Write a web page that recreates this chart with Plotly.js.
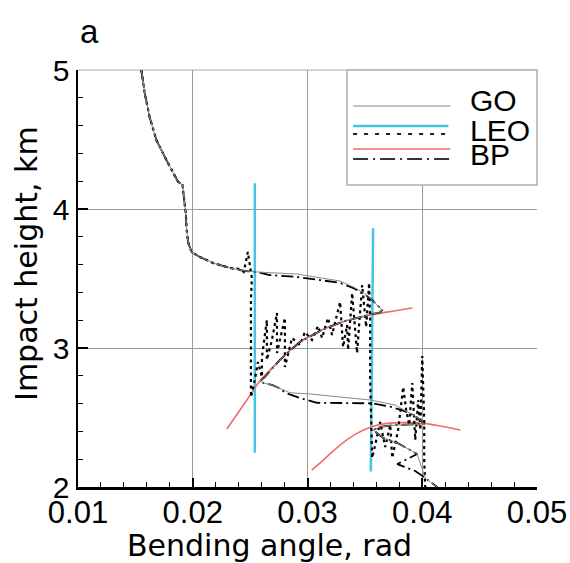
<!DOCTYPE html>
<html><head><meta charset="utf-8">
<script src="https://cdn.plot.ly/plotly-3.0.1.min.js"></script>
<style>html,body{margin:0;padding:0;background:#fff;} #chart{width:570px;height:563px;}</style>
</head><body><div id="chart"></div>
<script>
// ---- data (bending angle, rad ; impact height, km) ----
const bpX = [0.01552,0.01581,0.01624,0.01683,0.01770,0.01843,0.01872,0.01910,0.01924,0.01939,0.01945,0.01959,0.01989,0.02061,0.02175,0.02323,0.02454,0.02559,0.02672,0.02908,0.03109,0.03284,0.03397,0.03485,0.03563,0.03616,0.03651,0.03624,0.03563,0.03502,0.03328,0.03153,0.02934,0.02760,0.02629,0.02585,0.02620,0.02690,0.02751,0.02812,0.02934,0.03083,0.03258,0.03432,0.03572,0.03721,0.03834,0.03922,0.03983,0.04018,0.03913,0.03764,0.03633,0.03572,0.03659,0.03782,0.03895,0.03956,0.03782,0.03939,0.04026,0.04131,0.04175];
const bpY = [5.000,4.835,4.662,4.496,4.353,4.245,4.196,4.173,4.065,3.971,3.871,3.763,3.691,3.655,3.612,3.576,3.554,3.547,3.525,3.511,3.489,3.468,3.432,3.396,3.345,3.302,3.273,3.252,3.245,3.230,3.194,3.140,3.043,2.914,2.791,2.763,2.748,2.734,2.712,2.676,2.640,2.606,2.606,2.604,2.602,2.578,2.549,2.518,2.482,2.453,2.450,2.446,2.432,2.410,2.353,2.317,2.266,2.237,2.165,2.115,2.065,2.000,1.971];

const goX = [0.01552,0.01581,0.01624,0.01683,0.01770,0.01843,0.01872,0.01910,0.01924,0.01939,0.01945,0.01959,0.01989,0.02061,0.02175,0.02323,0.02454,0.02559,0.02908,0.03109,0.03284,0.03397,0.03485,0.03563,0.03616,0.03651,0.03624,0.03563,0.03502,0.03328,0.03153,0.02934,0.02760,0.02629,0.02585,0.02620,0.02690,0.02751,0.02847,0.03022,0.03284,0.03546,0.03764,0.03922,0.03983,0.04018,0.03913,0.03764,0.03633,0.03572,0.03659,0.03782,0.03895,0.03956,0.04026,0.04131,0.04175];
const goY = [5.000,4.835,4.662,4.496,4.353,4.245,4.196,4.173,4.065,3.971,3.871,3.763,3.691,3.655,3.612,3.576,3.554,3.547,3.532,3.504,3.482,3.440,3.400,3.345,3.302,3.273,3.252,3.245,3.230,3.194,3.140,3.043,2.914,2.791,2.763,2.748,2.734,2.712,2.678,2.669,2.647,2.626,2.590,2.518,2.482,2.453,2.450,2.446,2.432,2.410,2.353,2.317,2.266,2.237,2.065,2.000,1.971];

const leoX = [0.01552,0.01581,0.01624,0.01683,0.01770,0.01843,0.01872,0.01910,0.01924,0.01939,0.01945,0.01959,0.01989,0.02061,0.02175,0.02323,0.02410,0.02445,0.02480,0.02498,0.02515,0.02507,0.02507,0.02507,0.02507,0.02541,0.02568,0.02603,0.02603,0.02646,0.02646,0.02690,0.02734,0.02734,0.02769,0.02803,0.02803,0.02838,0.02865,0.02934,0.02978,0.03039,0.03092,0.03127,0.03179,0.03214,0.03284,0.03310,0.03345,0.03354,0.03389,0.03432,0.03476,0.03511,0.03537,0.03546,0.03546,0.03555,0.03563,0.03590,0.03633,0.03677,0.03721,0.03738,0.03790,0.03834,0.03860,0.03886,0.03913,0.03939,0.03965,0.03983,0.04000,0.04017,0.04017,0.04026,0.04035];
const leoY = [5.000,4.835,4.662,4.496,4.353,4.245,4.196,4.173,4.065,3.971,3.871,3.763,3.691,3.655,3.612,3.576,3.568,3.547,3.691,3.576,3.504,3.345,3.058,2.842,2.647,2.770,2.899,2.791,2.935,3.201,2.914,3.058,3.252,2.964,3.094,3.216,2.863,2.986,3.072,3.022,3.115,3.058,3.158,3.072,3.216,3.094,3.331,3.007,3.165,2.986,3.396,2.964,3.453,3.151,3.468,3.201,2.770,2.482,2.209,2.302,2.468,2.288,2.446,2.209,2.410,2.719,2.554,2.446,2.748,2.338,2.626,2.410,2.942,2.482,2.194,2.000,1.942];

const cyanAX = [0.02541,0.02541];
const cyanAY = [4.185,2.246];
const cyanBX = [0.03572,0.03552];
const cyanBY = [3.862,2.112];

const redAX = [0.02297,0.02472,0.02585,0.02760,0.02934,0.03153,0.03328,0.03502,0.03764,0.03913];
const redAY = [2.417,2.626,2.763,2.914,3.043,3.140,3.194,3.230,3.268,3.288];
const redBX = [0.03037,0.03138,0.03284,0.03430,0.03561,0.03692,0.03866,0.04011,0.04157,0.04332];
const redBY = [2.122,2.194,2.302,2.386,2.434,2.458,2.463,2.458,2.439,2.410];

const xTicks = [0.01,0.02,0.03,0.04,0.05];
const xTickText = ['0.01','0.02','0.03','0.04','0.05'];
const xGrid = [0.02,0.03,0.04];
const xMinor = [0.012,0.014,0.016,0.018,0.022,0.024,0.026,0.028,0.032,0.034,0.036,0.038,0.042,0.044,0.046,0.048];
const yTicks = [2,3,4,5];
const legendLabels = ['GO','LEO','BP'];

const FONT = 'Liberation Sans, Arial, Helvetica, sans-serif';
const TFONT = 'DejaVu Sans, Liberation Sans, sans-serif';
const CYAN = '#45c6e0';
const RED = '#f26a6a';
const LEO_DASH = '3px,3.5px';
const BP_DASH = '12px,4px,2px,4px';

const traces = [
  {x: goX, y: goY, xaxis:'x2', yaxis:'y', mode:'lines', line:{color:'#8a8a8a', width:1}, name:'GO'},
  {x: cyanAX, y: cyanAY, mode:'lines', line:{color:CYAN, width:2.5}},
  {x: cyanBX, y: cyanBY, mode:'lines', line:{color:CYAN, width:2.5}},
  {x: redAX, y: redAY, mode:'lines', line:{color:RED, width:1.6, shape:'spline'}},
  {x: redBX, y: redBY, mode:'lines', line:{color:RED, width:1.6, shape:'spline'}},
  {x: bpX, y: bpY, mode:'lines', line:{color:'#000', width:1.8, dash:BP_DASH}, name:'BP'},
  {x: leoX, y: leoY, mode:'lines', line:{color:'#000', width:2.2, dash:LEO_DASH}, name:'LEO'}
];

// legend geometry (paper coords)
const lx0 = 0.5993, lx1 = 0.8111;
const shapes = [
  {type:'line', xref:'paper', yref:'paper', x0:0, x1:1, y0:1, y1:1, line:{color:'#b0b0b0', width:1.2}, layer:'below'},
  {type:'rect', xref:'paper', yref:'paper', x0:0.5862, x1:1.0, y0:0.7242, y1:1.0, line:{color:'#b0b0b0', width:1.5}, fillcolor:'#fff'},
  {type:'line', xref:'paper', yref:'paper', x0:lx0, x1:lx1, y0:0.9137, y1:0.9137, line:{color:'#8a8a8a', width:1}},
  {type:'line', xref:'paper', yref:'paper', x0:lx0, x1:lx1-0.004, y0:0.8657, y1:0.8657, line:{color:CYAN, width:2.5}},
  {type:'line', xref:'paper', yref:'paper', x0:lx0, x1:lx1, y0:0.8465, y1:0.8465, line:{color:'#222', width:2.2, dash:'4px,7px'}},
  {type:'line', xref:'paper', yref:'paper', x0:lx0, x1:lx1, y0:0.8106, y1:0.8106, line:{color:RED, width:1.6}},
  {type:'line', xref:'paper', yref:'paper', x0:lx0, x1:lx1, y0:0.7866, y1:0.7866, line:{color:'#333', width:2, dash:'15px,5px,2px,5px'}}
];

const legendY = [0.9257, 0.8561, 0.7962];
const annotations = legendLabels.map((t,i)=>({
  text:t, xref:'paper', yref:'paper', x:0.8504, y:legendY[i], xanchor:'left', yanchor:'middle',
  showarrow:false, font:{family:FONT, size:30, color:'#000'}
}));
annotations.push({text:'a', xref:'paper', yref:'paper', x:0.0, y:1.092, xanchor:'left', yanchor:'middle', showarrow:false, font:{family:FONT, size:33, color:'#000'}});
annotations.push({text:'Bending angle, rad', xref:'paper', yref:'paper', x:0.418, y:-0.14, xanchor:'center', yanchor:'middle', showarrow:false, font:{family:TFONT, size:30, color:'#000'}});
annotations.push({text:'Impact height, km', xref:'paper', yref:'paper', x:-0.111, y:0.535, xanchor:'center', yanchor:'middle', textangle:-90, showarrow:false, font:{family:TFONT, size:30, color:'#000'}});

const layout = {
  width:570, height:563,
  margin:{l:78, r:33, t:70, b:76, pad:0},
  paper_bgcolor:'#fff', plot_bgcolor:'#fff',
  showlegend:false,
  font:{family:FONT, color:'#000'},
  xaxis:{
    range:[0.01,0.05], tickvals:xTicks, ticktext:xTickText,
    ticks:'inside', ticklen:9, tickwidth:2, tickcolor:'#000',
    showline:true, linecolor:'#000', linewidth:2.5,
    showgrid:false, zeroline:false, ticklabelstandoff:-4,
    tickfont:{family:FONT, size:31, color:'#000'},
    minor:{tickvals:xMinor, ticks:'inside', ticklen:5, tickwidth:1, tickcolor:'#000', showgrid:false}
  },
  xaxis2:{
    overlaying:'x', anchor:'y', range:[0.01,0.05], tickvals:xGrid,
    showgrid:true, gridcolor:'#9a9a9a', gridwidth:1,
    showticklabels:false, ticks:'', showline:false, zeroline:false
  },
  yaxis:{
    range:[2,5], tickvals:yTicks,
    ticks:'inside', ticklen:10, tickwidth:2, tickcolor:'#000',
    showline:true, linecolor:'#000', linewidth:2.5,
    showgrid:true, gridcolor:'#9a9a9a', gridwidth:1, zeroline:false,
    tickfont:{family:FONT, size:30, color:'#000'},
    minor:{dtick:0.2, ticks:'inside', ticklen:5, tickwidth:1, tickcolor:'#000', showgrid:false}
  },
  shapes:shapes,
  annotations:annotations
};

Plotly.newPlot('chart', traces, layout, {displayModeBar:false, staticPlot:true});
</script></body></html>
